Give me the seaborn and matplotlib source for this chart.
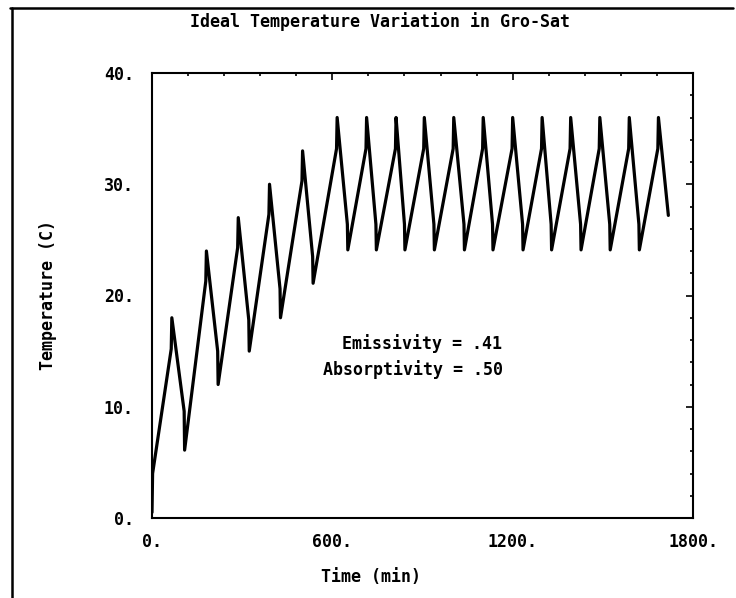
import matplotlib
matplotlib.use("Agg")
import matplotlib.pyplot as plt
from matplotlib.ticker import MultipleLocator
from matplotlib.lines import Line2D
import seaborn as sns
import pandas as pd

# ---- data ----
time_min = [0, 2,
            64, 66, 107, 108.5,
            179, 181, 218.5, 220,
            285, 287, 322, 323.5,
            389, 391, 426, 427.5,
            499, 501, 534.5, 536,
            614, 616, 650, 651.5,
            712, 714, 745, 746.5,
            810, 812, 840, 841.5,
            904, 906, 938, 939.5,
            1002, 1004, 1038, 1039.5,
            1100, 1102, 1133, 1134.5,
            1198, 1200, 1233, 1234.5,
            1296, 1298, 1328, 1329.5,
            1391, 1393, 1426, 1427.5,
            1488, 1490, 1523, 1524.5,
            1586, 1588, 1620, 1621.5,
            1683, 1685, 1718]
temperature_c = [0.5, 4.0,
                 15.2, 18.0, 9.6, 6.1,
                 21.3, 24.0, 15.0, 12.0,
                 24.3, 27.0, 17.8, 15.0,
                 27.3, 30.0, 20.6, 18.0,
                 30.3, 33.0, 23.5, 21.1,
                 33.2, 36.0, 26.4, 24.1,
                 33.2, 36.0, 26.4, 24.1,
                 33.2, 36.0, 26.4, 24.1,
                 33.2, 36.0, 26.4, 24.1,
                 33.2, 36.0, 26.4, 24.1,
                 33.2, 36.0, 26.4, 24.1,
                 33.2, 36.0, 26.4, 24.1,
                 33.2, 36.0, 26.4, 24.1,
                 33.2, 36.0, 26.4, 24.1,
                 33.2, 36.0, 26.4, 24.1,
                 33.2, 36.0, 26.4, 24.1,
                 33.2, 36.0, 27.2]

x_ticks = [0, 600, 1200, 1800]
x_tick_labels = ["0.", "600.", "1200.", "1800."]
y_ticks = [0, 10, 20, 30, 40]
y_tick_labels = ["0.", "10.", "20.", "30.", "40."]

title = "Ideal Temperature Variation in Gro-Sat"
x_label = "Time (min)"
y_label = "Temperature (C)"
notes = ["Emissivity = .41", "Absorptivity = .50"]

# ---- style ----
sns.set_theme(style="white")
FONT = ["DejaVu Sans Mono", "DejaVu Sans"]
plt.rcParams["font.family"] = FONT
plt.rcParams["font.weight"] = "bold"
plt.rcParams["text.color"] = "black"

W, H = 736, 598
fig = plt.figure(figsize=(W / 100, H / 100), dpi=100)
fig.patch.set_facecolor("white")

left, right, top, bottom = 152, 693, 73, 518
ax = fig.add_axes([left / W, 1 - bottom / H, (right - left) / W, (bottom - top) / H])

df = pd.DataFrame({"time": time_min, "temp": temperature_c})
sns.lineplot(data=df, x="time", y="temp", sort=False, estimator=None,
             color="black", linewidth=2.3, ax=ax)

ax.set_xlim(0, 1800)
ax.set_ylim(0, 40)
ax.set_xticks(x_ticks)
ax.set_xticklabels(x_tick_labels)
ax.set_yticks(y_ticks)
ax.set_yticklabels(y_tick_labels)
ax.xaxis.set_minor_locator(MultipleLocator(120))
ax.yaxis.set_minor_locator(MultipleLocator(2))
ax.set_xlabel("")
ax.set_ylabel("")

for s in ax.spines.values():
    s.set_visible(True)
    s.set_color("black")
    s.set_linewidth(1.5)

ax.tick_params(which="both", direction="in", top=True, right=True,
               color="black", width=1.2, labelsize=12, labelcolor="black")
ax.tick_params(which="major", length=5)
ax.tick_params(which="minor", length=2.5)
ax.tick_params(axis="x", which="major", pad=10.5)
ax.tick_params(axis="y", which="major", pad=13)
for lab in ax.get_xticklabels() + ax.get_yticklabels():
    lab.set_fontweight("bold")

# text annotations inside the plot
ax.text(0.499, 1 - (344 - top) / (bottom - top), notes[0], transform=ax.transAxes,
        ha="center", va="center", fontsize=12, fontweight="bold", color="black")
ax.text(0.482, 1 - (370 - top) / (bottom - top), notes[1], transform=ax.transAxes,
        ha="center", va="center", fontsize=12, fontweight="bold", color="black")

# title and axis labels
fig.text(380 / W, 1 - 22 / H, title, ha="center", va="center",
         fontsize=12, fontweight="bold", color="black")
fig.text(371 / W, 1 - 577 / H, x_label, ha="center", va="center",
         fontsize=12, fontweight="bold", color="black")
fig.text(48 / W, 1 - 295 / H, y_label, ha="center", va="center",
         rotation=90, fontsize=12, fontweight="bold", color="black")

# outer frame (left and top edges)
fig.add_artist(Line2D([12 / W, 12 / W], [0, 1 - 8 / H], transform=fig.transFigure,
                      color="black", linewidth=1.8))
fig.add_artist(Line2D([10 / W, 733 / W], [1 - 8 / H, 1 - 8 / H], transform=fig.transFigure,
                      color="black", linewidth=1.8))

fig.savefig("out.png", dpi=100, facecolor="white")
